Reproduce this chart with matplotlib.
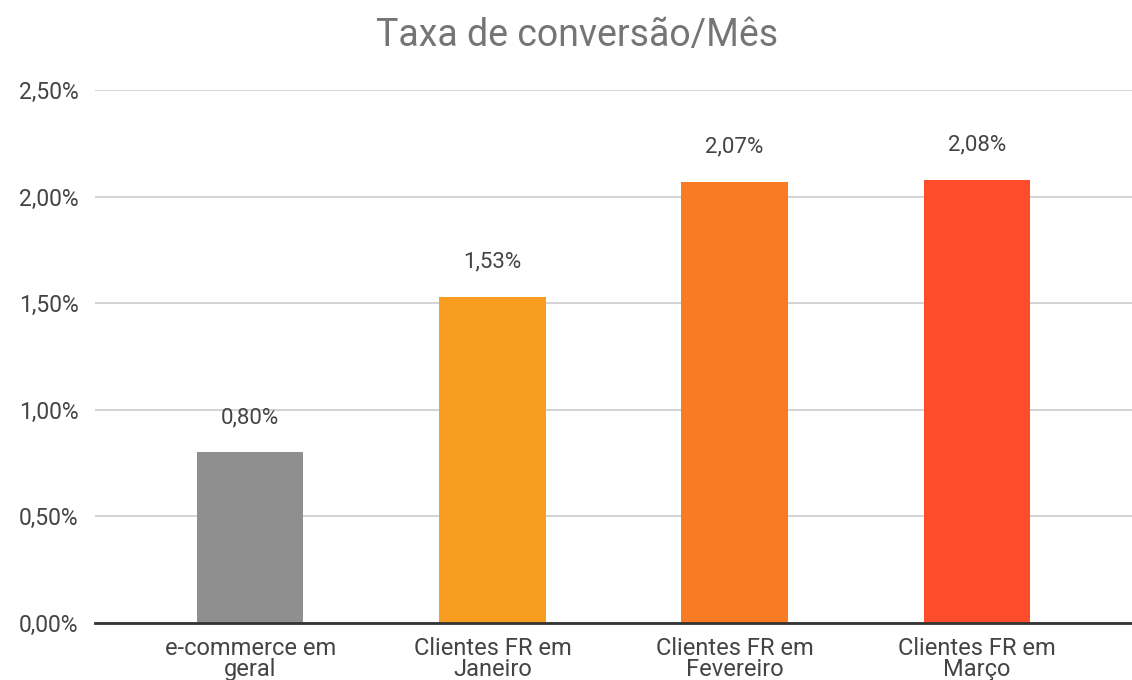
import matplotlib
matplotlib.use("Agg")
import matplotlib.pyplot as plt
from matplotlib.ticker import FuncFormatter

categories = ["e-commerce em\ngeral", "Clientes FR em\nJaneiro",
              "Clientes FR em\nFevereiro", "Clientes FR em\nMarço"]
values = [0.80, 1.53, 2.07, 2.08]
colors = ["#8f8f8f", "#f99d20", "#f97c25", "#ff4d2c"]
yticks = [0.0, 0.5, 1.0, 1.5, 2.0, 2.5]

plt.rcParams['font.family'] = ['Roboto', 'DejaVu Sans']

fig = plt.figure(figsize=(11.32, 6.8), dpi=100)
ax = fig.add_axes([0.084, 0.0838, 0.916, 0.7838])

x = list(range(len(categories)))
bars = ax.bar(x, values, width=0.44, color=colors, zorder=3)

for xi, v in zip(x, values):
    ax.annotate(f"{v:.2f}%".replace(".", ","), (xi, v), xytext=(0, 25),
                textcoords="offset points", ha="center", va="center",
                fontsize=16, color="#444444")

ax.set_xlim(-0.64, 3.64)
ax.set_ylim(0, 2.5)
ax.set_yticks(yticks)
ax.yaxis.set_major_formatter(FuncFormatter(lambda v, p: f"{v:.2f}%".replace(".", ",")))
ax.set_xticks(x)
ax.set_xticklabels(categories, fontsize=17, color="#444444", linespacing=0.9)
ax.tick_params(axis="y", labelsize=16.5, labelcolor="#444444", length=0, pad=12)
ax.tick_params(axis="x", length=0, pad=10)

ax.grid(axis="y", color="#d0d0d0", linewidth=1.3, zorder=0)
for s in ["top", "right", "left"]:
    ax.spines[s].set_visible(False)
ax.spines["bottom"].set_color("#333333")
ax.spines["bottom"].set_linewidth(2)
ax.spines["bottom"].set_zorder(4)

fig.text(0.51, 0.948, "Taxa de conversão/Mês", ha="center", va="center",
         fontsize=27, color="#757575")

fig.savefig("out.png", dpi=100)
